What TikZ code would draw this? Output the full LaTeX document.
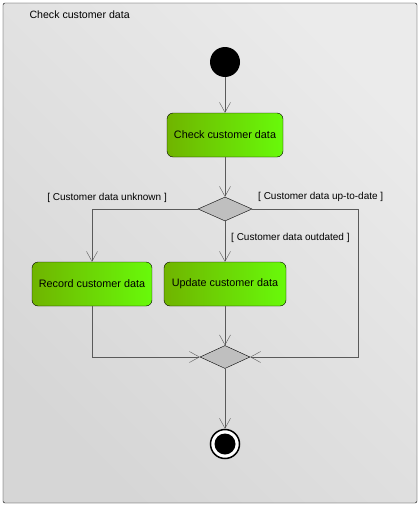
\documentclass[tikz,border=0pt]{standalone}
\usepackage{fontspec}
\setmainfont{Liberation Sans}
\usetikzlibrary{shapes.geometric,arrows.meta}
\definecolor{leafdark}{RGB}{112,180,0}
\definecolor{leaflight}{RGB}{104,250,10}
\definecolor{edgegray}{RGB}{90,90,90}
\begin{document}
\begin{tikzpicture}[x=1pt,y=-1pt,font=\fontsize{10}{12}\selectfont,
  action/.style={draw,rounded corners=6,left color=leafdark,right color=leaflight,
    minimum height=44,inner sep=0,font=\fontsize{10.8}{12}\selectfont},
  choice/.style={diamond,draw,fill=black!25,inner sep=0,aspect=2.2},
  flow/.style={draw=edgegray,-{Straight Barb[length=10,width=11]}},
  guard/.style={inner sep=0}]
\useasboundingbox (0,0) rectangle (420,506);
\draw[rounded corners=2,left color=black!16,right color=black!8,shading angle=135] (3,3) rectangle (417,503);
\node[anchor=west,font=\fontsize{10.6}{12}\selectfont] (title) at (26,15) {Check customer data};
\node[circle,fill=black,minimum size=30,inner sep=0] (start) at (225,62) {};
\node[action,minimum width=116] (check) at (225,135) {Check customer data};
\node[choice,minimum width=54,minimum height=24] (decide) at (225,209) {};
\node[action,minimum width=120] (record) at (92,284) {Record customer data};
\node[action,minimum width=122] (update) at (225,284) {Update customer data};
\node[choice,minimum width=50,minimum height=23] (merge) at (225,357) {};
\node[circle,draw,line width=1.5,fill=white,minimum size=29,inner sep=0] (final) at (225,444) {};
\fill (final.center) circle[radius=10.5pt];
\coordinate (turn) at (358,209);
% guards
\node[guard,anchor=east] (unknown) at (167,198) {[ Customer data unknown ]};
\node[guard,anchor=west] (uptodate) at (258,197) {[ Customer data up-to-date ]};
\node[guard,anchor=west] (outdated) at (231,238) {[ Customer data outdated ]};
% transitions
\draw[flow] (start) -- (check);
\draw[flow] (check) -- (decide);
\draw[flow] (decide.west) -| (record.north);
\draw[flow] (decide) -- (update);
\draw[flow] (decide.east) -- (turn) |- (merge.east);
\draw[flow] (record.south) |- (merge.west);
\draw[flow] (update) -- (merge);
\draw[flow] (merge) -- (final);
\end{tikzpicture}
\end{document}
